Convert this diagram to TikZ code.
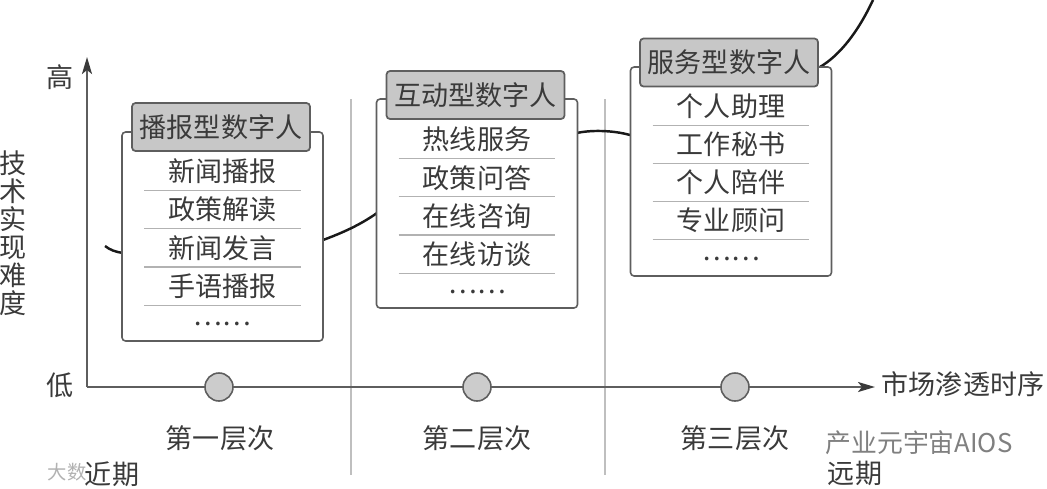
\documentclass[tikz,border=0pt]{standalone}
\usepackage{fontspec}
\setmainfont{Noto Sans CJK SC}
\usepackage{xcolor}
\usetikzlibrary{arrows.meta,positioning}
\definecolor{inkgray}{HTML}{3A3A3A}
\definecolor{linegray}{HTML}{5E5E5E}

\begin{document}
\begin{tikzpicture}[
    x=0.02cm, y=-0.02cm,
    every node/.style={text=inkgray, font=\fontsize{15.4}{16}\selectfont},
    panel/.style={rectangle, draw=linegray, fill=white, line width=0.9pt, minimum width=4.02cm, minimum height=4.18cm, rounded corners=2pt},
    header/.style={rectangle, draw=linegray, fill=black!22, line width=1pt, minimum width=3.56cm, minimum height=0.96cm, inner sep=0pt, rounded corners=2pt},
    row/.style={rectangle, minimum width=3.12cm, minimum height=0.75cm, inner sep=0pt},
    rowline/.style={draw=black!30, line width=0.6pt},
    marker/.style={circle, draw=linegray, fill=black!20, line width=0.9pt, minimum size=0.56cm, inner sep=0pt},
    divider/.style={draw=black!25, line width=0.8pt},
    axisline/.style={draw=linegray, line width=1.3pt},
    arrow/.style={-{Stealth[length=0.34cm, width=0.2cm, inset=0.08cm, inkgray]}},
    trend/.style={draw=black!90, line width=1.4pt}
]
\useasboundingbox (0,0) rectangle (1047,488);

% Layer dividers
\coordinate (d1top) at (351,99);
\coordinate (d1end) at (351,475);
\coordinate (d2top) at (605,99);
\coordinate (d2end) at (605,475);
\draw[divider] (d1top) -- (d1end);
\draw[divider] (d2top) -- (d2end);

% Trend curve, behind the panels
\coordinate (t0) at (105,246);
\coordinate (t1) at (123,253);
\coordinate (t2) at (323,240);
\coordinate (t3) at (377,213);
\coordinate (t4) at (577,133);
\coordinate (t5) at (630,135);
\coordinate (t6) at (820,67);
\coordinate (t7) at (873,0);
\draw[trend] (t0) .. controls (110,250) and (116,252) .. (t1);
\draw[trend] (t2) .. controls (342,233) and (360,225) .. (t3);
\draw[trend] (t4) .. controls (590,130) and (612,130) .. (t5);
\draw[trend] (t6) .. controls (840,55) and (858,32) .. (t7);

% Panels
\node[panel] (p1) at (222.5,236.5) {};
\node[panel] (p2) at (477,203.5) {};
\node[panel] (p3) at (731,171.5) {};
\node[header] (h1) at (221,127) {播报型数字人};
\node[header] (h2) at (475.5,95) {互动型数字人};
\node[header] (h3) at (729,62.5) {服务型数字人};

% First panel rows
\node[row] (a1) at (222.5,171.5) {新闻播报};
\node[row, below=0cm of a1] (a2) {政策解读};
\node[row, below=0cm of a2] (a3) {新闻发言};
\node[row, below=0cm of a3] (a4) {手语播报};
\node[row, below=0cm of a4] (a5) {……};
\draw[rowline] (a1.south west) -- (a1.south east);
\draw[rowline] (a2.south west) -- (a2.south east);
\draw[rowline] (a3.south west) -- (a3.south east);
\draw[rowline] (a4.south west) -- (a4.south east);

% Second panel rows
\node[row] (b1) at (477,139.5) {热线服务};
\node[row, below=0cm of b1] (b2) {政策问答};
\node[row, below=0cm of b2] (b3) {在线咨询};
\node[row, below=0cm of b3] (b4) {在线访谈};
\node[row, below=0cm of b4] (b5) {……};
\draw[rowline] (b1.south west) -- (b1.south east);
\draw[rowline] (b2.south west) -- (b2.south east);
\draw[rowline] (b3.south west) -- (b3.south east);
\draw[rowline] (b4.south west) -- (b4.south east);

% Third panel rows
\node[row] (c1) at (731,106) {个人助理};
\node[row, below=0cm of c1] (c2) {工作秘书};
\node[row, below=0cm of c2] (c3) {个人陪伴};
\node[row, below=0cm of c3] (c4) {专业顾问};
\node[row, below=0cm of c4] (c5) {……};
\draw[rowline] (c1.south west) -- (c1.south east);
\draw[rowline] (c2.south west) -- (c2.south east);
\draw[rowline] (c3.south west) -- (c3.south east);
\draw[rowline] (c4.south west) -- (c4.south east);

% Axes
\coordinate (origin) at (87,387);
\coordinate (ytip) at (87,57);
\coordinate (xtip) at (875,387);
\draw[axisline, arrow] (origin) -- (ytip);
\draw[axisline, arrow] (origin) -- (xtip);
\node[marker] (m1) at (219,387) {};
\node[marker] (m2) at (477,387) {};
\node[marker] (m3) at (735,387) {};

% Axis labels
\node (high) at (60,77) {高};
\node (low) at (60,385) {低};
\node[align=center, inner sep=0pt, font=\fontsize{15.4}{15.9}\selectfont] (ylabel) at (13,233) {技\\术\\实\\现\\难\\度};
\node (xlabel) at (963,384) {市场渗透时序};
\node (l1) at (220,438) {第一层次};
\node (l2) at (477,438) {第二层次};
\node (l3) at (735,438) {第三层次};

% Watermarks
\node[text=black!30, font=\fontsize{11}{13}\selectfont] (mark1) at (67,472) {大数};
\node[text=black!50, font=\fontsize{14.7}{16}\selectfont] (mark2) at (919,443) {产业元宇宙AIOS};

\node (near) at (112,474) {近期};
\node (far) at (855,473) {远期};

\end{tikzpicture}
\end{document}
